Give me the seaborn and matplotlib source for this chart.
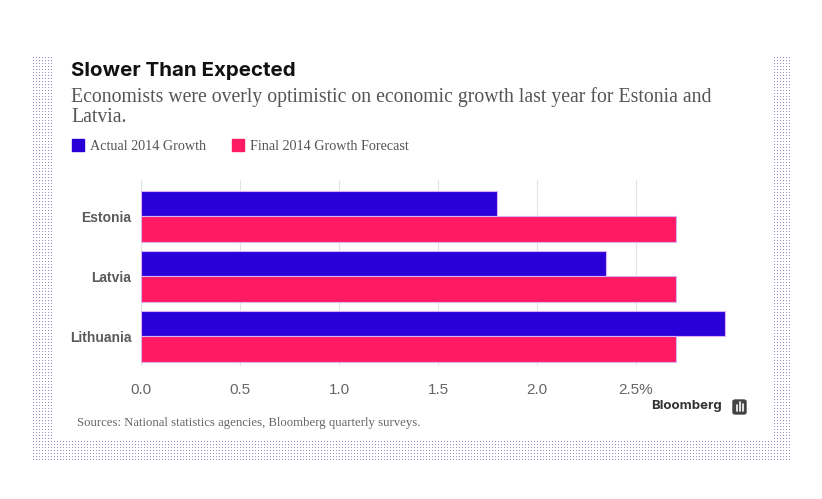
import numpy as np
import pandas as pd
import matplotlib
matplotlib.use("Agg")
import matplotlib.pyplot as plt
import seaborn as sns
from matplotlib.patches import Rectangle, FancyBboxPatch

# data
countries = ["Estonia", "Latvia", "Lithuania"]
series_names = ["Actual 2014 Growth", "Final 2014 Growth Forecast"]
actual_growth = [1.8, 2.35, 2.95]
forecast_growth = [2.7, 2.7, 2.7]
tick_values = [0.0, 0.5, 1.0, 1.5, 2.0, 2.5]
tick_labels = ["0.0", "0.5", "1.0", "1.5", "2.0", "2.5%"]

BLUE = "#2a00d8"
PINK = "#ff1a63"

df = pd.DataFrame({
    "country": countries * 2,
    "series": [series_names[0]] * 3 + [series_names[1]] * 3,
    "value": actual_growth + forecast_growth,
})

sns.set_style("white")
SANS = ["Inter", "DejaVu Sans"]
NARROW = ["Liberation Sans Narrow", "Liberation Sans", "DejaVu Sans"]
SERIF = ["Liberation Serif", "DejaVu Serif"]

W, H = 822, 499
fig = plt.figure(figsize=(W / 100, H / 100), dpi=100)
fig.patch.set_facecolor("white")

# dotted frame behind the white card
img = np.zeros((H, W, 4))
yy, xx = np.mgrid[0:H, 0:W]
frame = (xx >= 32) & (xx < 792) & (yy >= 57) & (yy < 461)
card = (xx >= 52) & (xx < 772) & (yy < 441)
dots = frame & ~card & (xx % 3 == 0) & (yy % 3 == 0)
img[dots] = [0.6, 0.56, 0.8, 1.0]
fig.figimage(img, xo=0, yo=0, origin="upper", zorder=0)


def fx(px):
    return px / W


def fy(py):
    return 1 - py / H


ax = fig.add_axes([fx(141), fy(366), fx(727) - fx(141), fy(180) - fy(366)])
ax.patch.set_alpha(0)
sns.barplot(data=df, y="country", x="value", hue="series", orient="h",
            palette=[BLUE, PINK], saturation=1, width=0.85,
            edgecolor="#dcb0f5", linewidth=0.8,
            legend=False, ax=ax, zorder=3)
ax.set_xlim(0, 2.96)
ax.set_ylim(2.5, -0.6)
ax.set_xticks(tick_values)
ax.set_xticklabels(tick_labels, family=NARROW, fontsize=11, color="#666666")
ax.set_yticks(range(len(countries)))
ax.set_yticklabels(countries, family=NARROW, fontsize=10, fontweight="bold",
                   color="#5a5a5a")
ax.tick_params(axis="both", length=0)
ax.tick_params(axis="y", pad=7)
ax.tick_params(axis="x", pad=12)
ax.set_xlabel("")
ax.set_ylabel("")
ax.grid(axis="x", color="#e3e3e3", linewidth=0.8, zorder=0)
ax.grid(axis="y", visible=False)
for s in ax.spines.values():
    s.set_visible(False)

# titles
fig.text(fx(71), fy(71), "Slower Than Expected", family=SANS, fontsize=14.8,
         fontweight="bold", color="#111111", va="center", ha="left")
fig.text(fx(71), fy(97),
         "Economists were overly optimistic on economic growth last year for Estonia and",
         family=SERIF, fontsize=14.2, color="#555555", va="center", ha="left")
fig.text(fx(71), fy(117), "Latvia.",
         family=SERIF, fontsize=14.2, color="#555555", va="center", ha="left")

# legend
for sx, tx, col, name in [(72, 90, BLUE, series_names[0]),
                          (232, 250, PINK, series_names[1])]:
    fig.patches.append(Rectangle((fx(sx), fy(151)), fx(12), 12 / H, color=col,
                                 transform=fig.transFigure, figure=fig))
    fig.text(fx(tx), fy(146), name, family=SERIF, fontsize=10.2, color="#555555",
             va="center", ha="left")

# footer
fig.text(fx(77), fy(423),
         "Sources: National statistics agencies, Bloomberg quarterly surveys.",
         family=SERIF, fontsize=9.2, color="#666666", va="center", ha="left")
fig.text(fx(722), fy(406), "Bloomberg", family=SANS, fontsize=9.5,
         fontweight="bold", color="#333333", va="center", ha="right")
fig.patches.append(FancyBboxPatch((fx(733), fy(414)), fx(13), 14 / H,
                                  boxstyle="round,pad=0,rounding_size=0.003",
                                  color="#444444", transform=fig.transFigure,
                                  figure=fig))
for bx, h in [(736.5, 6), (739.5, 9), (742.5, 7)]:
    fig.lines.append(plt.Line2D([fx(bx), fx(bx)], [fy(411), fy(411 - h)],
                                color="white", linewidth=1.2,
                                transform=fig.transFigure, figure=fig))

fig.savefig("out.png", dpi=100, facecolor="white")
